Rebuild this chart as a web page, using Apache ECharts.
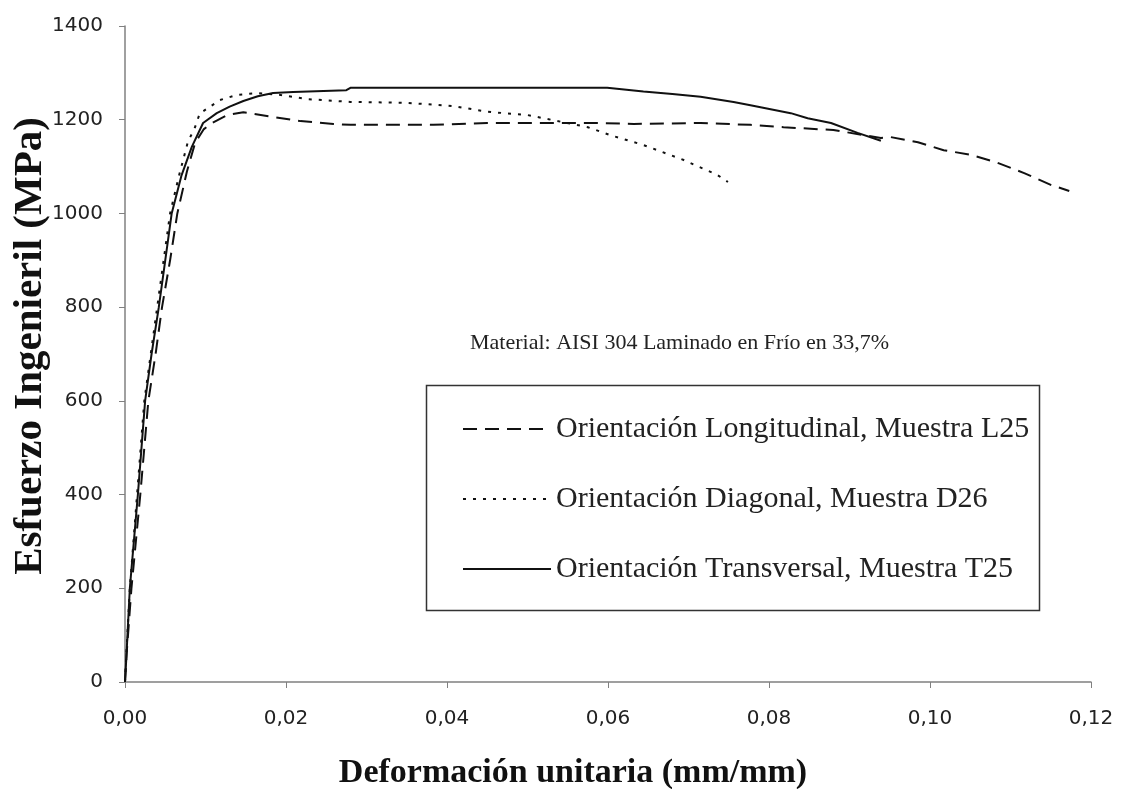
<!DOCTYPE html>
<html>
<head>
<meta charset="utf-8">
<script src="https://cdn.jsdelivr.net/npm/echarts@6/dist/echarts.min.js"></script>
<style>
  html, body { margin: 0; padding: 0; background: #fff; }
  #chart { width: 1126px; height: 789px; }
</style>
</head>
<body>
<div id="chart"></div>
<script>
// strain (mm/mm) and stress (MPa)
const strainL = [0, 0.0002, 0.0008, 0.0019, 0.0029, 0.0038, 0.0046, 0.0056, 0.0065, 0.0077, 0.0087, 0.0098, 0.0108, 0.0127, 0.0147, 0.0184, 0.0218, 0.0259, 0.0280, 0.0383, 0.0450, 0.0516, 0.0582, 0.0632, 0.0715, 0.0777, 0.0818, 0.0880, 0.0939, 0.0951, 0.0985, 0.1017, 0.1051, 0.1084, 0.1117, 0.1150, 0.1173];
const stressL = [0, 60, 200, 400, 600, 700, 800, 900, 1000, 1090, 1150, 1180, 1193, 1210, 1216, 1206, 1197, 1191, 1189, 1189, 1193, 1193, 1193, 1191, 1193, 1189, 1184, 1178, 1161, 1163, 1152, 1135, 1125, 1108, 1086, 1061, 1048];

const strainD = [0, 0.0002, 0.0006, 0.0015, 0.0024, 0.0032, 0.0040, 0.0048, 0.0056, 0.0067, 0.0078, 0.0087, 0.0093, 0.0097, 0.0118, 0.0139, 0.0164, 0.0193, 0.0226, 0.0280, 0.0351, 0.0408, 0.0450, 0.0500, 0.0532, 0.0575, 0.0603, 0.0644, 0.0694, 0.0736, 0.0749];
const stressD = [0, 70, 200, 400, 600, 700, 800, 900, 1000, 1080, 1152, 1184, 1214, 1218, 1242, 1253, 1257, 1253, 1244, 1238, 1236, 1229, 1217, 1210, 1199, 1184, 1167, 1146, 1114, 1082, 1067];

const strainT = [0, 0.0001, 0.0006, 0.0016, 0.0025, 0.0033, 0.0042, 0.0050, 0.0058, 0.0070, 0.0083, 0.0097, 0.0114, 0.0130, 0.0147, 0.0165, 0.0184, 0.0209, 0.0275, 0.0280, 0.0400, 0.0500, 0.0599, 0.0644, 0.0680, 0.0715, 0.0756, 0.0777, 0.0827, 0.0848, 0.0877, 0.0910, 0.0939];
const stressT = [0, 30, 200, 400, 600, 700, 800, 900, 1000, 1080, 1142, 1193, 1214, 1228, 1240, 1250, 1257, 1259, 1263, 1268, 1268, 1268, 1268, 1260, 1255, 1249, 1238, 1231, 1214, 1203, 1193, 1172, 1155];

const seriesNames = [
  'Orientación Longitudinal, Muestra L25',
  'Orientación Diagonal, Muestra D26',
  'Orientación Transversal, Muestra T25'
];
const noteText = 'Material: AISI 304 Laminado en Frío en 33,7%';
const xTitle = 'Deformación unitaria (mm/mm)';
const yTitle = 'Esfuerzo Ingenieril (MPa)';

const zip = (xs, ys) => xs.map((x, i) => [x, ys[i]]);

const chart = echarts.init(document.getElementById('chart'));

const serifFont = '"Liberation Serif", "Times New Roman", serif';
const lineCol = '#111';

function lineSeries(name, data, dash) {
  return {
    name: name,
    type: 'line',
    data: data,
    symbol: 'none',
    showSymbol: false,
    smooth: false,
    animation: false,
    lineStyle: { color: lineCol, width: 2, type: dash },
    itemStyle: { color: lineCol }
  };
}

const option = {
  backgroundColor: '#fff',
  animation: false,
  grid: { left: 125, right: 35, top: 26, bottom: 107, containLabel: false, outerBoundsMode: 'none' },
  xAxis: {
    type: 'value',
    min: 0, max: 0.12, interval: 0.02,
    name: xTitle,
    nameLocation: 'middle',
    nameGap: 74,
    nameTextStyle: { fontFamily: serifFont, fontWeight: 'bold', fontSize: 34, color: '#111', padding: [0, 70, 0, 0] },
    axisLine: { lineStyle: { color: '#808080', width: 1.5 } },
    axisTick: { show: true, inside: false, length: 6, lineStyle: { color: '#808080' } },
    axisLabel: {
      fontFamily: '"DejaVu Sans", sans-serif', fontSize: 20, color: '#222', margin: 27,
      formatter: v => v.toFixed(2).replace('.', ',')
    },
    splitLine: { show: false }
  },
  yAxis: {
    type: 'value',
    min: 0, max: 1400, interval: 200,
    axisLine: { show: true, lineStyle: { color: '#808080', width: 1.5 } },
    axisTick: { show: true, inside: false, length: 6, lineStyle: { color: '#808080' } },
    axisLabel: {
      fontFamily: '"DejaVu Sans", sans-serif', fontSize: 20, color: '#222', margin: 22,
      formatter: v => String(v)
    },
    splitLine: { show: false }
  },
  legend: {
    orient: 'vertical',
    left: 457,
    top: 407,
    itemWidth: 88,
    itemHeight: 14,
    itemGap: 36,
    itemStyle: { opacity: 0 },
    textStyle: { fontFamily: serifFont, fontSize: 30, color: '#222', lineHeight: 34 },
    data: seriesNames
  },
  graphic: [
    {
      type: 'rect',
      left: 424, top: 383,
      shape: { width: 613, height: 225 },
      style: { fill: 'none', stroke: '#333', lineWidth: 1.5 },
      silent: true
    },
    {
      type: 'text',
      left: 470, top: 332,
      style: { text: noteText, font: '22px ' + serifFont, fill: '#222' },
      silent: true
    },
    {
      type: 'text',
      x: 30, y: 346,
      rotation: Math.PI / 2,
      style: {
        text: yTitle, font: 'bold 41px ' + serifFont, fill: '#111',
        align: 'center', verticalAlign: 'middle'
      },
      silent: true
    }
  ],
  series: [
    lineSeries(seriesNames[0], zip(strainL, stressL), [14, 8]),
    lineSeries(seriesNames[1], zip(strainD, stressD), [3, 7]),
    lineSeries(seriesNames[2], zip(strainT, stressT), 'solid')
  ]
};

chart.setOption(option);
</script>
</body>
</html>
